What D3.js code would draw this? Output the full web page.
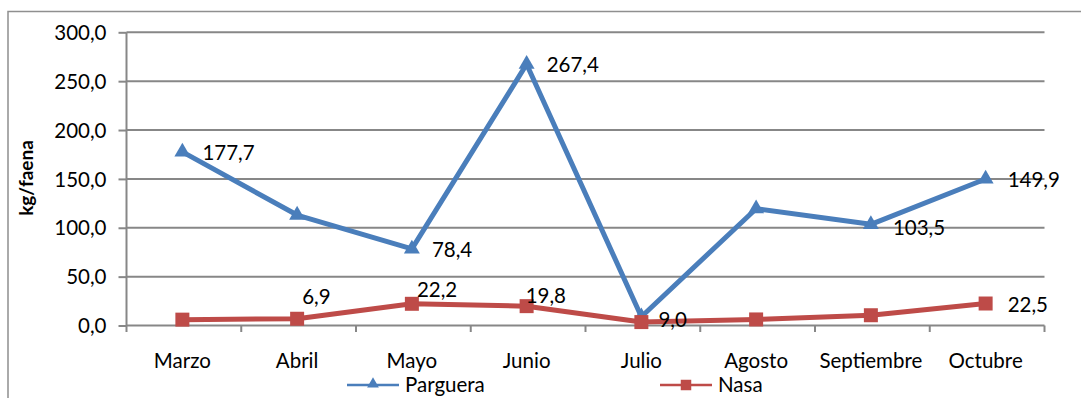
<!DOCTYPE html>
<html>
<head>
<meta charset="utf-8">
<script src="https://cdn.jsdelivr.net/npm/d3@7/dist/d3.min.js"></script>
<style>
  html, body { margin: 0; padding: 0; background: #fff; }
  svg { display: block; font-family: Lato, "Liberation Sans", sans-serif; }
</style>
</head>
<body>
<svg id="chart" width="1081" height="398"></svg>
<script>
// Monthly catch per fishing trip (kg/faena) by gear type
const months = ["Marzo", "Abril", "Mayo", "Junio", "Julio", "Agosto", "Septiembre", "Octubre"];
const parguera = [177.7, 113.0, 78.4, 267.4, 9.0, 119.5, 103.5, 149.9];
const nasa = [6.0, 6.9, 22.2, 19.8, 3.5, 6.2, 10.5, 22.5];
const yTicks = [0, 50, 100, 150, 200, 250, 300];

// Which points carry a value label
const pargueraLabelled = ["Marzo", "Mayo", "Junio", "Julio", "Septiembre", "Octubre"];
const nasaLabelled = ["Abril", "Mayo", "Junio", "Octubre"];

const BLUE = "#4A7EBB";
const RED = "#BE4B48";
const GRID = "#878787";
const FS = 20.5;
const fmt = v => d3.format(".1f")(v).replace(".", ",");

const svg = d3.select("#chart");

// outer frame (top and left edges visible)
svg.append("path")
  .attr("d", "M8,398 V11.5 H1081")
  .attr("fill", "none").attr("stroke", "#8f8f8f").attr("stroke-width", 1.5);

const x = d3.scaleBand().domain(months).range([126.5, 1044.5]);
const y = d3.scaleLinear().domain([0, 300]).range([325.5, 32.3]);
const cx = m => x(m) + x.bandwidth() / 2 - 1.5;

// horizontal gridlines
svg.append("g").selectAll("line").data(yTicks.filter(d => d > 0)).join("line")
  .attr("x1", 126.5).attr("x2", 1044.5)
  .attr("y1", d => y(d)).attr("y2", d => y(d))
  .attr("stroke", GRID).attr("stroke-width", 2);

// y axis
const yAxis = svg.append("g").attr("transform", "translate(126.5,0)")
  .call(d3.axisLeft(y).tickValues(yTicks).tickSize(8).tickPadding(12).tickFormat(fmt));
yAxis.select(".domain").remove();
yAxis.selectAll(".tick line").attr("stroke", GRID).attr("stroke-width", 2);
yAxis.selectAll(".tick text").attr("font-size", FS).attr("fill", "#000")
  .attr("font-family", "Lato, sans-serif").attr("dy", "0.35em");
svg.append("line").attr("x1", 126.5).attr("x2", 126.5).attr("y1", 32.3).attr("y2", 332)
  .attr("stroke", GRID).attr("stroke-width", 2);

// x axis baseline with ticks at category boundaries
svg.append("line").attr("x1", 126.5).attr("x2", 1044.5).attr("y1", y(0)).attr("y2", y(0))
  .attr("stroke", GRID).attr("stroke-width", 2);
svg.append("g").selectAll("line").data(months).join("line")
  .attr("x1", d => x(d) + x.bandwidth()).attr("x2", d => x(d) + x.bandwidth())
  .attr("y1", y(0)).attr("y2", 332)
  .attr("stroke", GRID).attr("stroke-width", 2);
svg.append("g").selectAll("text").data(months).join("text")
  .attr("x", d => cx(d)).attr("y", 361).attr("dy", "0.35em")
  .attr("text-anchor", "middle").attr("font-size", FS).attr("fill", "#000")
  .text(d => d);

// y axis title
svg.append("text")
  .attr("transform", "translate(26,178) rotate(-90)")
  .attr("text-anchor", "middle").attr("dy", "0.35em")
  .attr("font-size", 19).attr("font-weight", "bold").attr("fill", "#000")
  .text("kg/faena");

const line = d3.line().x(d => cx(d.m)).y(d => y(d.v));
const series = [
  { name: "Parguera", values: parguera, color: BLUE, symbol: d3.symbolTriangle, size: 110, labelled: pargueraLabelled },
  { name: "Nasa", values: nasa, color: RED, symbol: d3.symbolSquare, size: 196, labelled: nasaLabelled }
];

// label nudges (text start relative to point, vertical centre relative to point)
const nudge = {
  "Parguera|Julio": [17, 3], "Parguera|Septiembre": [22, 3], "Parguera|Octubre": [22, 1],
  "Nasa|Abril": [5, -22], "Nasa|Mayo": [5, -14], "Nasa|Junio": [-1, -10], "Nasa|Octubre": [22, 1]
};

series.forEach(s => {
  const pts = months.map((m, i) => ({ m, v: s.values[i] }));
  svg.append("path").datum(pts).attr("d", line)
    .attr("fill", "none").attr("stroke", s.color).attr("stroke-width", 5)
    .attr("stroke-linejoin", "round");
  svg.append("g").selectAll("path").data(pts).join("path")
    .attr("transform", d => `translate(${cx(d.m)},${y(d.v)})`)
    .attr("d", d3.symbol(s.symbol, s.size)).attr("fill", s.color);
});

series.forEach(s => {
  const pts = months.map((m, i) => ({ m, v: s.values[i] })).filter(d => s.labelled.includes(d.m));
  svg.append("g").selectAll("text").data(pts).join("text")
    .attr("x", d => cx(d.m) + (nudge[s.name + "|" + d.m] || [20, 1])[0])
    .attr("y", d => y(d.v) + (nudge[s.name + "|" + d.m] || [20, 1])[1])
    .attr("dy", "0.35em").attr("font-size", FS).attr("fill", "#000")
    .text(d => fmt(d.v));
});

// legend
const legendItems = [
  { s: series[0], x0: 347 },
  { s: series[1], x0: 660 }
];
const lg = svg.append("g");
legendItems.forEach(({ s, x0 }) => {
  lg.append("line").attr("x1", x0).attr("x2", x0 + 52).attr("y1", 385).attr("y2", 385)
    .attr("stroke", s.color).attr("stroke-width", 2.5);
  lg.append("path").attr("transform", `translate(${x0 + 26},${s.name === "Parguera" ? 384 : 385})`)
    .attr("d", d3.symbol(s.symbol, s.name === "Parguera" ? 60 : 110)).attr("fill", s.color);
  lg.append("text").attr("x", x0 + 58).attr("y", 385).attr("dy", "0.35em")
    .attr("font-size", FS).attr("fill", "#000").text(s.name);
});
</script>
</body>
</html>
